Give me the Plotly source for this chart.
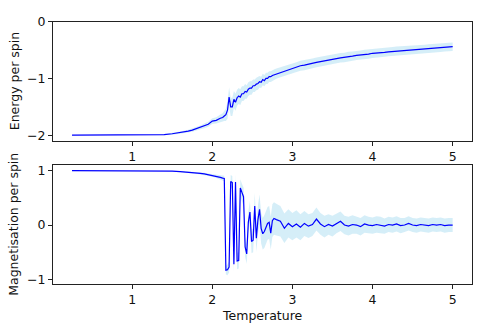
import plotly.graph_objects as go

# Simulation temperatures (dense sampling around the critical region)
temperature = [
    0.25, 0.5, 0.75, 1.0, 1.2, 1.4, 1.5, 1.6, 1.7, 1.75,
    1.8, 1.85, 1.9, 1.95, 2.0, 2.05, 2.1, 2.13, 2.15, 2.17,
    2.19, 2.21, 2.23, 2.25, 2.27, 2.29, 2.31, 2.33, 2.35, 2.37,
    2.39, 2.41, 2.43, 2.45, 2.47, 2.49, 2.51, 2.53, 2.55, 2.57,
    2.59, 2.61, 2.63, 2.65, 2.67, 2.69, 2.71, 2.73, 2.75, 2.77,
    2.8, 2.85, 2.9, 2.95, 3.0, 3.05, 3.1, 3.15, 3.2, 3.25,
    3.3, 3.35, 3.4, 3.45, 3.5, 3.55, 3.6, 3.65, 3.7, 3.75,
    3.8, 3.85, 3.9, 3.95, 4.0, 4.05, 4.1, 4.15, 4.2, 4.25,
    4.3, 4.35, 4.4, 4.45, 4.5, 4.55, 4.6, 4.65, 4.7, 4.75,
    4.8, 4.85, 4.9, 4.95, 5.0,
]

# Mean energy per spin and its standard deviation
energy = [
    -2.000, -2.000, -2.000, -2.000, -1.998, -1.990, -1.975, -1.955, -1.928, -1.910,
    -1.884, -1.866, -1.836, -1.808, -1.752, -1.738, -1.702, -1.688, -1.662, -1.640,
    -1.56, -1.33, -1.50, -1.50, -1.37, -1.42, -1.34, -1.31, -1.33, -1.27,
    -1.27, -1.23, -1.24, -1.19, -1.17, -1.17, -1.13, -1.13, -1.10, -1.09,
    -1.06, -1.07, -1.02, -1.04, -1.00, -1.00, -0.97, -0.97, -0.95, -0.94,
    -0.915, -0.89, -0.865, -0.848, -0.818, -0.802, -0.778, -0.768, -0.748, -0.736,
    -0.718, -0.704, -0.688, -0.678, -0.66, -0.652, -0.638, -0.632, -0.614, -0.609,
    -0.594, -0.589, -0.577, -0.572, -0.558, -0.556, -0.546, -0.541, -0.532, -0.527,
    -0.518, -0.514, -0.507, -0.503, -0.496, -0.493, -0.486, -0.482, -0.474, -0.471,
    -0.464, -0.461, -0.453, -0.450, -0.442,
]
energy_err = [
    0.002, 0.002, 0.002, 0.003, 0.005, 0.010, 0.015, 0.020, 0.025, 0.028,
    0.032, 0.035, 0.040, 0.045, 0.050, 0.055, 0.065, 0.075, 0.090, 0.110,
    0.15, 0.17, 0.16, 0.16, 0.15, 0.15, 0.14, 0.14, 0.14, 0.13,
    0.13, 0.13, 0.12, 0.12, 0.12, 0.12, 0.11, 0.11, 0.11, 0.11,
    0.10, 0.10, 0.10, 0.10, 0.10, 0.10, 0.095, 0.095, 0.095, 0.095,
    0.090, 0.090, 0.090, 0.090, 0.088, 0.088, 0.087, 0.087, 0.086, 0.086,
    0.085, 0.085, 0.085, 0.084, 0.084, 0.084, 0.083, 0.083, 0.083, 0.082,
    0.082, 0.082, 0.081, 0.081, 0.081, 0.080, 0.080, 0.080, 0.079, 0.079,
    0.079, 0.078, 0.078, 0.078, 0.077, 0.077, 0.077, 0.076, 0.076, 0.076,
    0.075, 0.075, 0.075, 0.075, 0.075,
]

# Mean magnetisation per spin and its standard deviation
magnetisation = [
    1.000, 1.000, 1.000, 1.000, 0.999, 0.995, 0.990, 0.982, 0.972, 0.966,
    0.958, 0.948, 0.938, 0.925, 0.910, 0.895, 0.875, 0.862, 0.855, -0.83,
    -0.82, -0.77, 0.80, 0.78, -0.72, 0.79, -0.66, -0.65, 0.68, 0.60,
    0.52, -0.40, -0.53, 0.05, 0.24, -0.30, -0.28, 0.35, -0.24, 0.10,
    0.29, -0.06, -0.16, -0.12, -0.05, 0.03, 0.05, -0.15, 0.08, 0.12,
    0.10, 0.07, -0.06, 0.03, -0.03, 0.02, -0.04, 0.03, -0.02, 0.01,
    0.11, 0.02, -0.03, 0.01, -0.02, 0.03, 0.07, 0.00, -0.02, 0.01,
    0.00, -0.03, 0.02, 0.00, -0.01, 0.01, 0.00, -0.02, 0.01, 0.00,
    0.02, -0.01, 0.00, 0.03, 0.00, -0.01, 0.01, 0.00, -0.01, 0.01,
    0.00, 0.01, -0.01, 0.00, 0.00,
]
magnetisation_err = [
    0.001, 0.001, 0.001, 0.002, 0.003, 0.005, 0.008, 0.010, 0.012, 0.014,
    0.016, 0.018, 0.020, 0.022, 0.025, 0.030, 0.035, 0.040, 0.050, 0.080,
    0.10, 0.10, 0.12, 0.12, 0.14, 0.14, 0.15, 0.15, 0.16, 0.16,
    0.17, 0.18, 0.18, 0.20, 0.20, 0.22, 0.22, 0.24, 0.25, 0.26,
    0.27, 0.28, 0.29, 0.30, 0.30, 0.30, 0.30, 0.30, 0.30, 0.30,
    0.29, 0.28, 0.27, 0.26, 0.25, 0.25, 0.24, 0.23, 0.22, 0.21,
    0.21, 0.20, 0.20, 0.19, 0.19, 0.18, 0.18, 0.17, 0.17, 0.17,
    0.16, 0.16, 0.16, 0.15, 0.15, 0.15, 0.15, 0.14, 0.14, 0.14,
    0.14, 0.14, 0.13, 0.13, 0.13, 0.13, 0.13, 0.13, 0.13, 0.13,
    0.13, 0.13, 0.13, 0.13, 0.13,
]

x_ticks = [1, 2, 3, 4, 5]
energy_ticks = [-2, -1, 0]
mag_ticks = [-1, 0, 1]

BAND = "rgba(135,206,235,0.35)"
LINE = "#0000ff"
FONT = "DejaVu Sans"
FS = 12.5

fig = go.Figure()


def add_panel(y, err, xa, ya):
    lower = [v - e for v, e in zip(y, err)]
    upper = [v + e for v, e in zip(y, err)]
    fig.add_trace(go.Scatter(x=temperature, y=lower, mode="lines",
                             line=dict(width=0, color=BAND),
                             xaxis=xa, yaxis=ya, showlegend=False,
                             hoverinfo="skip"))
    fig.add_trace(go.Scatter(x=temperature, y=upper, mode="lines",
                             line=dict(width=0, color=BAND), fill="tonexty",
                             fillcolor=BAND, xaxis=xa, yaxis=ya,
                             showlegend=False, hoverinfo="skip"))
    fig.add_trace(go.Scatter(x=temperature, y=y, mode="lines",
                             line=dict(width=1.2, color=LINE),
                             xaxis=xa, yaxis=ya, showlegend=False))


add_panel(energy, energy_err, "x", "y")
add_panel(magnetisation, magnetisation_err, "x2", "y2")

axis_common = dict(showline=True, mirror=True, linecolor="#222",
                   linewidth=1, ticks="outside", ticklen=4, tickwidth=1,
                   tickcolor="#222", showgrid=False, zeroline=False,
                   tickfont=dict(family=FONT, size=FS, color="#111"))

x_domain = [53 / 481, 471.7 / 481]
fig.update_layout(
    width=481, height=332,
    margin=dict(l=0, r=0, t=0, b=0),
    paper_bgcolor="white", plot_bgcolor="white",
    font=dict(family=FONT, size=FS, color="#111"),
    xaxis=dict(domain=x_domain, range=[0.0125, 5.2375], tickvals=x_ticks,
               anchor="y", **axis_common),
    yaxis=dict(domain=[1 - 137 / 332, 1 - 14 / 332], range=[-2.1, 0],
               tickvals=energy_ticks, anchor="x", **axis_common),
    xaxis2=dict(domain=x_domain, range=[0.0125, 5.2375], tickvals=x_ticks,
                anchor="y2", **axis_common),
    yaxis2=dict(domain=[1 - 285 / 332, 1 - 162 / 332], range=[-1.09, 1.1],
                tickvals=mag_ticks, anchor="x2", **axis_common),
    annotations=[
        dict(text="Energy per spin", xref="paper", yref="paper",
             x=14 / 481, y=1 - 75.5 / 332, textangle=-90, showarrow=False,
             xanchor="center", yanchor="middle",
             font=dict(family=FONT, size=FS, color="#111")),
        dict(text="Magnetisation per spin", xref="paper", yref="paper",
             x=14 / 481, y=1 - 223.5 / 332, textangle=-90, showarrow=False,
             xanchor="center", yanchor="middle",
             font=dict(family=FONT, size=FS, color="#111")),
        dict(text="Temperature", xref="paper", yref="paper",
             x=262 / 481, y=1 - 317 / 332, showarrow=False,
             xanchor="center", yanchor="middle",
             font=dict(family=FONT, size=FS, color="#111")),
    ],
)

fig.write_html("out.html")
